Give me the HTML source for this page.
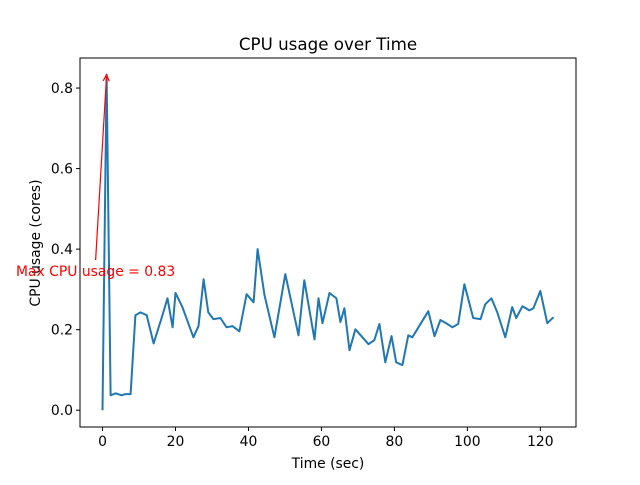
<!DOCTYPE html>
<html><head><meta charset="utf-8"><style>
body{margin:0;background:#fff}
svg{font-family:"DejaVu Sans","Liberation Sans",sans-serif}
</style></head><body>
<svg id="c" width="640" height="480" viewBox="0 0 640 480">
<rect width="640" height="480" fill="#fff"/>
<text x="328" y="50" font-size="16.7" text-anchor="middle">CPU usage over Time</text>
<text x="328" y="468" font-size="13.9" text-anchor="middle">Time (sec)</text>
<text transform="translate(40,243) rotate(-90)" font-size="13.9" text-anchor="middle">CPU usage (cores)</text>
<g id="ticks"></g>
<polyline id="line" fill="none" stroke="#1f77b4" stroke-width="2" stroke-linejoin="round"/>
<g id="ann"></g>
<rect x="80" y="58" width="496" height="369" fill="none" stroke="#000" stroke-width="1"/>
</svg>
<script>
const times=[0,1.1,2.2,3.6,5.2,6.3,7.7,9.0,10.4,12.1,14,16.2,17.8,19.2,20,21.9,24.9,26.3,27.7,29,30.4,32.3,34,35.6,37.5,39.5,41.4,42.5,44.4,47.1,50.1,53.7,55.3,58.1,59.2,60.3,62.2,64.1,65.2,66.3,67.7,69.3,72.9,74.5,75.9,77.5,79.2,80.5,82.2,83.8,84.9,89.3,91,92.6,94.2,95.9,97.5,99.2,101.6,103.6,104.9,106.6,108.2,110.4,112.3,113.4,115.1,117,118.1,120,121.9,123.6];
const usage=[0,.833,.037,.042,.037,.04,.04,.236,.243,.236,.166,.229,.278,.206,.291,.256,.181,.209,.325,.243,.226,.229,.206,.209,.196,.288,.268,.4,.286,.181,.338,.186,.323,.176,.278,.216,.291,.278,.219,.253,.149,.201,.164,.174,.214,.119,.184,.119,.112,.186,.181,.246,.184,.224,.216,.206,.214,.313,.229,.226,.263,.278,.243,.181,.256,.229,.258,.248,.253,.296,.216,.231];
const xTicks=[0,20,40,60,80,100,120];
const yTicks=[0.0,0.2,0.4,0.6,0.8];
const annText=[-1.9,0.373];
const X0=80,X1=576,Y0=427,Y1=58;
const n=Math.min(times.length,usage.length);
const xmin0=Math.min(...times),xmax0=Math.max(...times),ymin0=Math.min(...usage),ymax0=Math.max(...usage);
const xm=(xmax0-xmin0)*0.05,ym=(ymax0-ymin0)*0.05;
const xmin=xmin0-xm,xmax=xmax0+xm,ymin=ymin0-ym,ymax=ymax0+ym;
const sx=v=>X0+(v-xmin)/(xmax-xmin)*(X1-X0);
const sy=v=>Y0-(v-ymin)/(ymax-ymin)*(Y0-Y1);
const NS="http://www.w3.org/2000/svg";
const tg=document.getElementById('ticks');
function mk(t,a,p){const e=document.createElementNS(NS,t);for(const k in a)e.setAttribute(k,a[k]);(p||tg).appendChild(e);return e;}
xTicks.forEach(v=>{const x=sx(v);
const l=mk('line',{x1:x,x2:x,y1:Y0,y2:Y0+4,stroke:'#000'});


const t=mk('text',{x:x,y:Y0+19,'font-size':13.9,'text-anchor':'middle'});t.textContent=v;

});
yTicks.forEach(v=>{const y=sy(v);
const l=mk('line',{x1:X0-4,x2:X0,y1:y,y2:y,stroke:'#000'});


const t=mk('text',{x:X0-7,y:y+5,'font-size':13.9,'text-anchor':'end'});t.textContent=v.toFixed(1);

});
let pts=[];for(let i=0;i<n;i++)pts.push(sx(times[i]).toFixed(1)+','+sy(usage[i]).toFixed(1));
document.getElementById('line').setAttribute('points',pts.join(' '));
let mi=0;for(let i=0;i<n;i++)if(usage[i]>usage[mi])mi=i;
const ag=document.getElementById('ann');
const px=sx(times[mi]),py=sy(usage[mi]),tx=sx(annText[0]),ty=sy(annText[1]);
const al=mk('line',{x1:tx,y1:ty,x2:px,y2:py+1,stroke:'red','stroke-width':1.2},ag);


const ang=Math.atan2(py-ty,px-tx);
const hd=mk('polyline',{points:`${px-7*Math.cos(ang-0.45)},${py-7*Math.sin(ang-0.45)} ${px},${py} ${px-7*Math.cos(ang+0.45)},${py-7*Math.sin(ang+0.45)}`,fill:'none',stroke:'red','stroke-width':1.2},ag);


const at=mk('text',{x:tx,y:ty+16,'font-size':13.9,'text-anchor':'middle',fill:'red'},ag);
at.textContent='Max CPU usage = '+usage[mi].toFixed(2);


</script>
</body></html>
